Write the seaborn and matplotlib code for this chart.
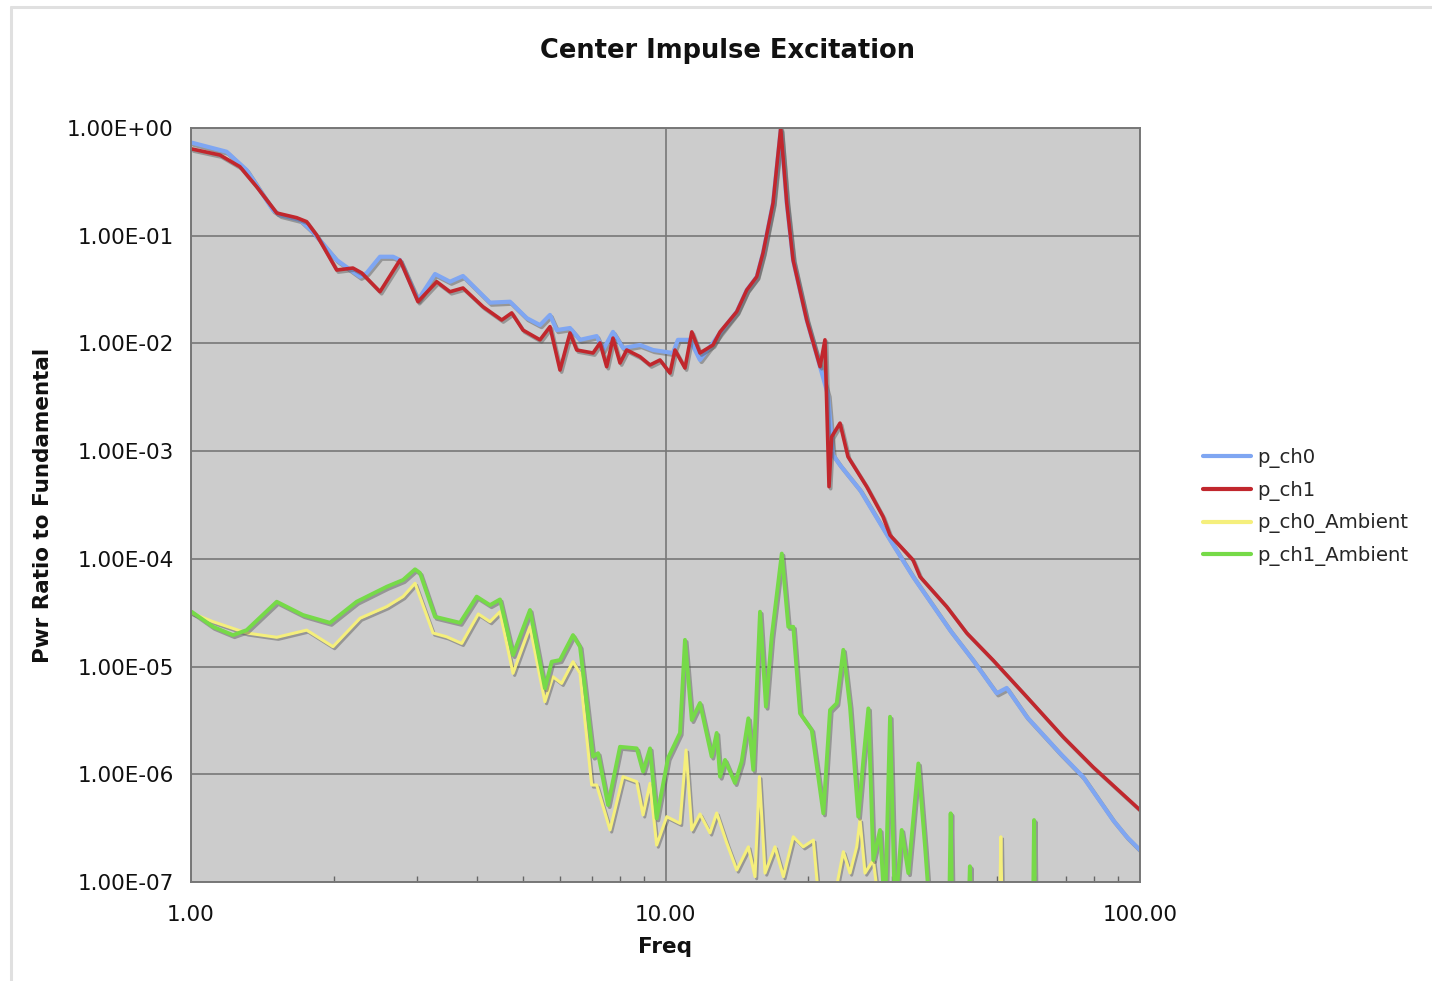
import matplotlib
matplotlib.use("Agg")
import matplotlib.pyplot as plt
import matplotlib.patheffects as pe
from matplotlib.ticker import FixedLocator, NullFormatter, LogLocator
from matplotlib.lines import Line2D
import seaborn as sns
import pandas as pd

# ---------------- data ----------------
freq_ch0 = [1.005, 1.189, 1.310, 1.489, 1.540, 1.697, 1.808, 2.028, 2.271, 2.346, 2.502, 2.666, 2.757,
            3.008, 3.268, 3.514, 3.743, 4.267, 4.702, 5.099, 5.439, 5.709, 5.898, 6.291, 6.604, 7.161,
            7.384, 7.75, 8.137, 8.837, 9.41, 10.37, 10.62, 11.26, 11.82, 12.59, 13.03, 14.13, 14.83,
            15.57, 16.05, 16.85, 17.49, 18.01, 18.57, 19.84, 21.17, 22.0, 22.54, 23.32, 25.70, 29.73,
            33.24, 39.77, 44.46, 49.89, 52.37, 57.7, 67.83, 75.84, 87.73, 93.76, 100]
pwr_ch0 = [0.730, 0.602, 0.407, 0.173, 0.156, 0.140, 0.108, 0.0595, 0.0416, 0.0451, 0.0638, 0.0638,
           0.0595, 0.0253, 0.0441, 0.0374, 0.0423, 0.0239, 0.0244, 0.0172, 0.0148, 0.0184, 0.0133,
           0.0139, 0.0108, 0.0117, 0.00869, 0.0128, 0.00907, 0.00967, 0.00869, 0.00815, 0.0108,
           0.0108, 0.00702, 0.0101, 0.0125, 0.0197, 0.0313, 0.0416, 0.0691, 0.201, 0.958, 0.201,
           0.0595, 0.0165, 0.00608, 0.00332, 0.00092, 0.000743, 0.000436, 0.000150, 6.83e-5,
           2.18e-5, 1.15e-5, 5.65e-6, 6.33e-6, 3.42e-6, 1.57e-6, 9.48e-7, 3.76e-7, 2.63e-7, 1.98e-7]

freq_ch1 = [1.005, 1.151, 1.268, 1.375, 1.516, 1.670, 1.753, 1.840, 2.028, 2.194, 2.290, 2.502, 2.757,
            3.008, 3.295, 3.514, 3.743, 4.125, 4.517, 4.742, 5.008, 5.439, 5.709, 5.993, 6.291, 6.50,
            7.035, 7.278, 7.516, 7.75, 8.019, 8.284, 8.837, 9.276, 9.737, 10.22, 10.47, 10.99, 11.36,
            11.82, 12.59, 13.03, 14.13, 14.83, 15.57, 16.05, 16.85, 17.49, 18.01, 18.57, 19.84, 21.17,
            21.68, 22.11, 22.40, 23.32, 24.24, 26.55, 28.73, 29.73, 33.24, 34.39, 39.14, 43.13, 48.99,
            57.7, 68.82, 79.6, 100]
pwr_ch1 = [0.638, 0.561, 0.437, 0.285, 0.1625, 0.147, 0.135, 0.1015, 0.048, 0.0501, 0.0451, 0.0302,
           0.0595, 0.0244, 0.0374, 0.0302, 0.0327, 0.0219, 0.0165, 0.0192, 0.0133, 0.0108, 0.0143,
           0.00566, 0.0125, 0.00869, 0.00815, 0.0101, 0.00608, 0.0112, 0.00658, 0.00869, 0.00753,
           0.00631, 0.00702, 0.00531, 0.00869, 0.00591, 0.0128, 0.00815, 0.00967, 0.0128, 0.0197,
           0.0313, 0.0416, 0.0691, 0.201, 1.0, 0.201, 0.0595, 0.0165, 0.00608, 0.0108, 0.000468,
           0.00136, 0.00182, 0.000888, 0.000468, 0.000247, 0.000166, 9.76e-5, 6.83e-5, 3.60e-5,
           2.05e-5, 1.15e-5, 5.25e-6, 2.23e-6, 1.17e-6, 4.66e-7]

freq_ch0_amb = [1.003, 1.113, 1.310, 1.516, 1.753, 1.992, 2.271, 2.585, 2.798, 2.966, 3.236, 3.458,
                3.72, 4.032, 4.267, 4.479, 4.771, 5.181, 5.57, 5.79, 6.04, 6.383, 6.604, 6.99, 7.161,
                7.639, 8.137, 8.697, 8.968, 9.276, 9.58, 10.06, 10.73, 11.05, 11.36, 11.82, 12.41,
                12.82, 13.46, 14.13, 14.95, 15.44, 15.77, 16.21, 17.01, 17.72, 18.59, 19.51, 20.49,
                21.17, 22.35, 23.70, 24.48, 25.29, 25.70, 26.33, 27.41, 28.32, 50.6, 50.9, 51.2]
pwr_ch0_amb = [3.14e-5, 2.61e-5, 2.05e-5, 1.87e-5, 2.18e-5, 1.53e-5, 2.81e-5, 3.6e-5, 4.46e-5,
               5.93e-5, 2.05e-5, 1.89e-5, 1.64e-5, 3.08e-5, 2.61e-5, 3.23e-5, 8.65e-6, 2.34e-5,
               4.72e-6, 8.05e-6, 6.98e-6, 1.11e-5, 8.65e-6, 7.95e-7, 7.95e-7, 3.04e-7, 9.5e-7,
               8.53e-7, 4.19e-7, 8.24e-7, 2.2e-7, 4.04e-7, 3.5e-7, 1.68e-6, 3.04e-7, 4.28e-7,
               2.85e-7, 4.37e-7, 2.3e-7, 1.29e-7, 2.12e-7, 1.12e-7, 9.5e-7, 1.21e-7, 2.12e-7,
               1.12e-7, 2.63e-7, 2.12e-7, 2.45e-7, 5e-8, 5e-8, 1.91e-7, 1.21e-7, 2.12e-7, 3.76e-7,
               1.21e-7, 1.6e-7, 5e-8, 5e-8, 2.63e-7, 5e-8]

freq_ch1_amb = [1.003, 1.113, 1.226, 1.310, 1.516, 1.722, 1.963, 2.234, 2.585, 2.798, 2.966, 3.038,
                3.268, 3.689, 4.0, 4.267, 4.479, 4.771, 5.181, 5.57, 5.757, 5.993, 6.383, 6.604,
                7.035, 7.21, 7.565, 8.019, 8.697, 8.968, 9.276, 9.58, 10.12, 10.73, 10.99, 11.36,
                11.82, 12.51, 12.82, 13.03, 13.35, 14.01, 14.47, 14.95, 15.31, 15.82, 16.28, 16.74,
                17.58, 18.15, 18.59, 19.21, 20.33, 21.51, 22.22, 22.95, 23.70, 24.48, 25.49, 26.12,
                26.76, 27.41, 28.32, 29.01, 29.73, 30.45, 31.46, 32.49, 34.11, 35.24, 36.10, 39.6,
                39.9, 40.2, 43.5, 43.8, 44.1, 59.5, 59.8, 60.1]
pwr_ch1_amb = [3.23e-5, 2.34e-5, 1.96e-5, 2.18e-5, 4.0e-5, 3.01e-5, 2.55e-5, 4.0e-5, 5.51e-5,
               6.37e-5, 8.0e-5, 7.4e-5, 2.9e-5, 2.55e-5, 4.46e-5, 3.72e-5, 4.2e-5, 1.28e-5, 3.35e-5,
               6.28e-6, 1.11e-5, 1.15e-5, 1.96e-5, 1.53e-5, 1.46e-6, 1.57e-6, 5.18e-7, 1.8e-6,
               1.74e-6, 1.06e-6, 1.74e-6, 3.9e-7, 1.41e-6, 2.42e-6, 1.77e-5, 3.19e-6, 4.59e-6,
               1.46e-6, 2.42e-6, 9.5e-7, 1.36e-6, 8.3e-7, 1.31e-6, 3.31e-6, 1.1e-6, 3.23e-5, 4.24e-6,
               1.89e-5, 1.12e-4, 2.34e-5, 2.34e-5, 3.68e-6, 2.58e-6, 4.34e-7, 3.95e-6, 4.56e-6,
               1.43e-5, 4.24e-6, 4.04e-7, 1.36e-6, 4.09e-6, 1.6e-7, 3.04e-7, 5e-8, 3.42e-6, 5e-8,
               3.04e-7, 1.21e-7, 1.26e-6, 2.12e-7, 5e-8, 5e-8, 4.34e-7, 5e-8, 5e-8, 1.4e-7, 5e-8,
               5e-8, 3.76e-7, 5e-8]

series_names = ["p_ch0", "p_ch1", "p_ch0_Ambient", "p_ch1_Ambient"]
series_colors = ["#7fa6f2", "#c1272d", "#f5ef7c", "#76da48"]
series_widths = [3.0, 2.6, 2.2, 2.8]

x_ticks = [1, 10, 100]
x_tick_labels = ["1.00", "10.00", "100.00"]
y_ticks = [1e0, 1e-1, 1e-2, 1e-3, 1e-4, 1e-5, 1e-6, 1e-7]
y_tick_labels = ["1.00E+00", "1.00E-01", "1.00E-02", "1.00E-03",
                 "1.00E-04", "1.00E-05", "1.00E-06", "1.00E-07"]

# ---------------- figure ----------------
sns.set_style("white")
plt.rcParams["font.family"] = ["DejaVu Sans"]

W, H = 1432, 981
fig = plt.figure(figsize=(W / 100, H / 100), dpi=100)
ax = fig.add_axes([191 / W, 1 - 882 / H, (1140 - 191) / W, (882 - 128) / H])
ax.set_xscale("log")
ax.set_yscale("log")
ax.set_facecolor("#cccccc")

xs = [freq_ch0, freq_ch1, freq_ch0_amb, freq_ch1_amb]
ys = [pwr_ch0, pwr_ch1, pwr_ch0_amb, pwr_ch1_amb]
shadow = [pe.SimpleLineShadow(offset=(1.2, -1.5), shadow_color="#555555", alpha=0.45), pe.Normal()]
for name, x, y, c, lw in zip(series_names, xs, ys, series_colors, series_widths):
    df = pd.DataFrame({"Freq": x, "Pwr": y})
    sns.lineplot(data=df, x="Freq", y="Pwr", ax=ax, color=c, lw=lw, sort=False,
                 estimator=None, legend=False, path_effects=shadow, solid_joinstyle="round")

ax.set_xlim(1, 100)
ax.set_ylim(1e-7, 1)

ax.xaxis.set_major_locator(FixedLocator(x_ticks))
ax.set_xticklabels(x_tick_labels)
ax.xaxis.set_minor_locator(LogLocator(base=10, subs=range(2, 10)))
ax.xaxis.set_minor_formatter(NullFormatter())
ax.yaxis.set_major_locator(FixedLocator(y_ticks))
ax.set_yticklabels(y_tick_labels)
ax.yaxis.set_minor_locator(FixedLocator([]))

ax.tick_params(axis="both", which="major", direction="out", length=4.5, width=1,
               color="#666666", labelsize=15.5, labelcolor="#111111", pad=5)
ax.tick_params(axis="x", which="minor", direction="in", length=4, width=1, color="#666666",
               bottom=True)
ax.tick_params(axis="x", which="major", pad=12)
ax.tick_params(axis="y", which="major", pad=8)

ax.grid(True, which="major", color="#777777", lw=1.2)
ax.set_axisbelow(True)
for s in ax.spines.values():
    s.set_visible(True)
    s.set_color("#777777")
    s.set_linewidth(1.4)

ax.set_xlabel("Freq", fontsize=15.5, fontweight="bold", labelpad=9, color="#111111")
ax.set_ylabel("Pwr Ratio to Fundamental", fontsize=15.5, fontweight="bold", color="#111111")
ax.yaxis.set_label_coords((53 - 191) / (1140 - 191), 0.5)

fig.text(728 / W, 1 - 51 / H, "Center Impulse Excitation", ha="center", va="center",
         fontsize=18.5, fontweight="bold", color="#111111")

# frame lines of the chart area
fig.add_artist(Line2D([11 / W, 1], [1 - 7 / H, 1 - 7 / H], transform=fig.transFigure,
                      color="#e0e0e0", lw=2.2))
fig.add_artist(Line2D([11 / W, 11 / W], [0, 1 - 7 / H], transform=fig.transFigure,
                      color="#e0e0e0", lw=2.2))

handles = [Line2D([], [], color=c, lw=3) for c in series_colors]
fig.legend(handles, series_names, loc="center left", bbox_to_anchor=(1203 / W, 1 - 507 / H),
           frameon=False, fontsize=14.2, handlelength=2.45, handletextpad=0.3,
           labelspacing=0.65, borderaxespad=0, borderpad=0)

fig.savefig("out.png", dpi=100)
